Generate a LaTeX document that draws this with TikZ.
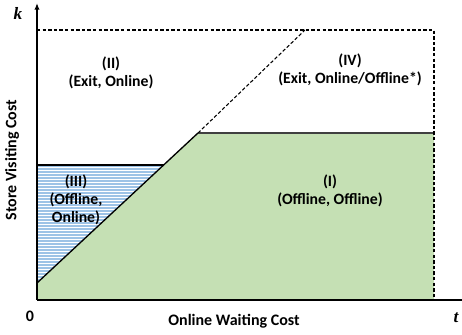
\documentclass[tikz,border=0pt]{standalone}
\usepackage{fontspec}
\setmainfont{Carlito}
\newfontfamily\axisfont{Liberation Serif}
\usepackage{tikz}
\usetikzlibrary{arrows.meta,positioning}

\definecolor{regiongreen}{HTML}{C5E0B4}
\definecolor{hatchblue}{HTML}{9DC3E6}
\definecolor{edgegray}{HTML}{404040}

\tikzset{
  lbl/.style={font=\fontsize{11.8}{13.3}\selectfont\bfseries, align=center},
  axislbl/.style={font=\fontsize{12}{13}\selectfont\bfseries},
  varlbl/.style={font=\fontsize{13}{14}\selectfont\axisfont\bfseries\itshape},
  bnd/.style={draw=black, line width=1pt},
  guide/.style={draw=black, dash pattern=on 2.6pt off 1.6pt, line width=0.8pt}
}

\begin{document}
\begin{tikzpicture}[x=0.75pt, y=-0.75pt]
    \useasboundingbox (0,0) rectangle (462,335);

    % corner points of the regions
    \coordinate (origin) at (37,300);
    \coordinate (diagstart) at (37,283);
    \coordinate (kink) at (198,133);
    \coordinate (hatchtop) at (163.6,165);
    \coordinate (hatchleft) at (37,165);
    \coordinate (greenright) at (434,133);
    \coordinate (tcorner) at (434,300);
    \coordinate (ktop) at (37,30);
    \coordinate (kcorner) at (434,30);
    \coordinate (diagend) at (305,30);

    % region (I)
    \fill[regiongreen] (origin) -- (diagstart) -- (kink) -- (greenright) -- (tcorner) -- cycle;

    % region (III), horizontal hatching
    \begin{scope}
        \clip (diagstart) -- (hatchtop) -- (hatchleft) -- cycle;
        \foreach \yy in {166,169,...,286}
            \draw[hatchblue, line width=1.1pt] (37,\yy) -- (170,\yy);
    \end{scope}

    % boundaries
    \draw[bnd] (hatchleft) -- (hatchtop);
    \draw[bnd] (diagstart) -- (kink);
    \draw[edgegray, line width=1.3pt] (kink) -- (greenright);
    \draw[guide] (kink) -- (diagend);
    \draw[guide] (ktop) -- (kcorner) -- (tcorner);

    % axes
    \draw[line width=1.2pt] (origin) -- (462,300);
    \draw[line width=1.2pt, -{Latex[length=5pt,width=4pt]}] (origin) -- (37,3);

    % axis labels
    \node[varlbl] (klbl) at (18,13) {k};
    \node[varlbl] (tlbl) at (456,318) {t};
    \node[axislbl] (zerolbl) at (30,316) {0};
    \node[axislbl] (xlbl) at (234,321) {Online Waiting Cost};
    \node[axislbl, rotate=90] (ylbl) at (12,160) {Store Visiting Cost};

    % region labels
    \node[lbl] (lblII) at (111,73) {(II)\\(Exit, Online)};
    \node[lbl] (lblIV) at (350,70) {(IV)\\(Exit, Online/Offline*)};
    \node[lbl] (lblIII) at (76,200) {(III)\\(Offline,\\Online)};
    \node[lbl] (lblI) at (330,191) {(I)\\(Offline, Offline)};
\end{tikzpicture}
\end{document}
